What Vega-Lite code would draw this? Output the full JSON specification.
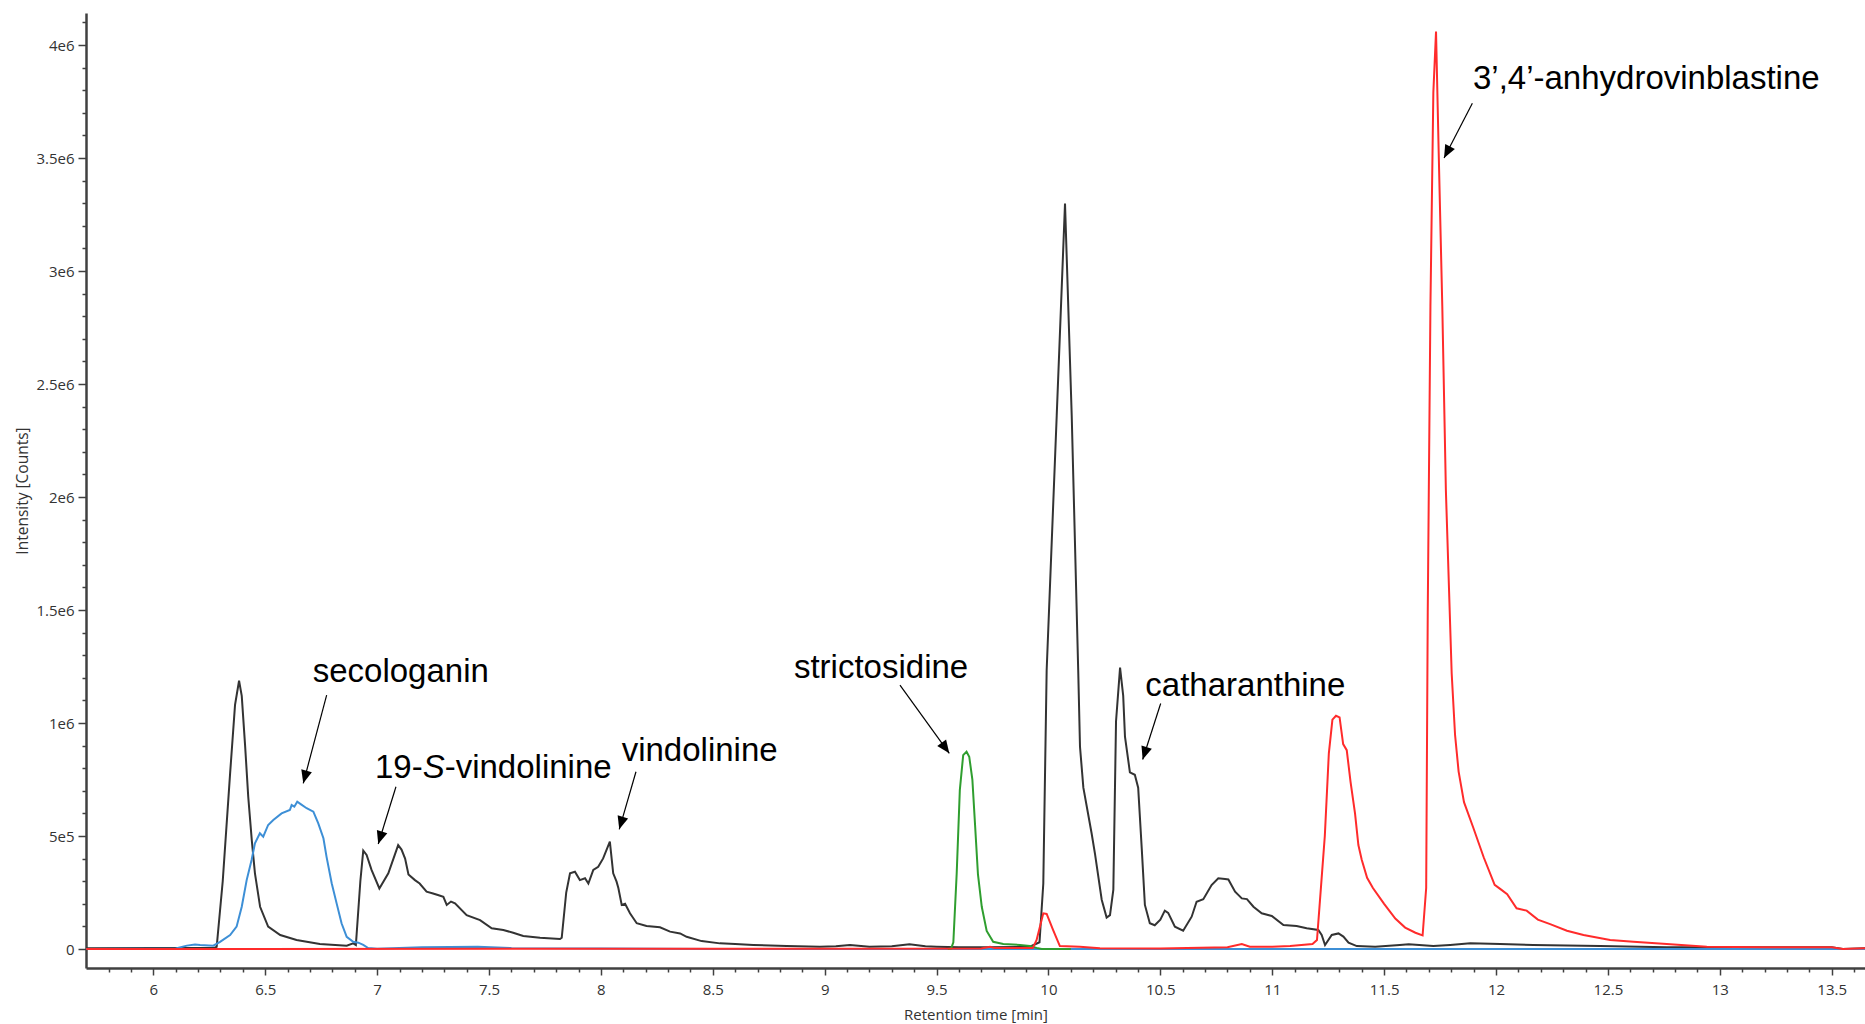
{
  "$schema": "https://vega.github.io/schema/vega-lite/v6.json",
  "width": 1779,
  "height": 955,
  "autosize": {"type": "none"},
  "padding": {"left": 86, "top": 13, "right": 0, "bottom": 56},
  "background": "white",
  "config": {"view": {"stroke": null}},
  "datasets": {
    "traces": [
      {"s":"sample","t":5.7,"i":3000},{"s":"sample","t":6.0,"i":4000},{"s":"sample","t":6.2,"i":4000},{"s":"sample","t":6.27,"i":4000},{"s":"sample","t":6.283,"i":10000},{"s":"sample","t":6.31,"i":300000},{"s":"sample","t":6.343,"i":777000},{"s":"sample","t":6.365,"i":1080000},{"s":"sample","t":6.383,"i":1187000},{"s":"sample","t":6.395,"i":1120000},{"s":"sample","t":6.41,"i":900000},{"s":"sample","t":6.424,"i":674000},{"s":"sample","t":6.44,"i":480000},{"s":"sample","t":6.454,"i":335000},{"s":"sample","t":6.477,"i":187000},{"s":"sample","t":6.513,"i":99000},{"s":"sample","t":6.567,"i":62000},{"s":"sample","t":6.64,"i":40000},{"s":"sample","t":6.744,"i":22000},{"s":"sample","t":6.864,"i":15000},{"s":"sample","t":6.893,"i":25000},{"s":"sample","t":6.905,"i":18000},{"s":"sample","t":6.925,"i":300000},{"s":"sample","t":6.938,"i":435000},{"s":"sample","t":6.953,"i":416000},{"s":"sample","t":6.975,"i":350000},{"s":"sample","t":7.01,"i":268000},{"s":"sample","t":7.05,"i":335000},{"s":"sample","t":7.08,"i":420000},{"s":"sample","t":7.094,"i":460000},{"s":"sample","t":7.109,"i":440000},{"s":"sample","t":7.125,"i":400000},{"s":"sample","t":7.14,"i":330000},{"s":"sample","t":7.169,"i":305000},{"s":"sample","t":7.19,"i":290000},{"s":"sample","t":7.221,"i":254000},{"s":"sample","t":7.25,"i":246000},{"s":"sample","t":7.275,"i":238000},{"s":"sample","t":7.296,"i":231000},{"s":"sample","t":7.311,"i":195000},{"s":"sample","t":7.33,"i":210000},{"s":"sample","t":7.348,"i":202000},{"s":"sample","t":7.4,"i":150000},{"s":"sample","t":7.46,"i":128000},{"s":"sample","t":7.512,"i":92000},{"s":"sample","t":7.564,"i":84000},{"s":"sample","t":7.608,"i":72000},{"s":"sample","t":7.653,"i":58000},{"s":"sample","t":7.728,"i":50000},{"s":"sample","t":7.817,"i":44000},{"s":"sample","t":7.825,"i":50000},{"s":"sample","t":7.845,"i":250000},{"s":"sample","t":7.862,"i":335000},{"s":"sample","t":7.884,"i":342000},{"s":"sample","t":7.906,"i":305000},{"s":"sample","t":7.929,"i":313000},{"s":"sample","t":7.944,"i":290000},{"s":"sample","t":7.966,"i":350000},{"s":"sample","t":7.988,"i":364000},{"s":"sample","t":8.01,"i":401000},{"s":"sample","t":8.04,"i":475000},{"s":"sample","t":8.055,"i":335000},{"s":"sample","t":8.07,"i":298000},{"s":"sample","t":8.078,"i":270000},{"s":"sample","t":8.093,"i":195000},{"s":"sample","t":8.108,"i":200000},{"s":"sample","t":8.13,"i":158000},{"s":"sample","t":8.16,"i":114000},{"s":"sample","t":8.204,"i":102000},{"s":"sample","t":8.264,"i":96000},{"s":"sample","t":8.309,"i":77000},{"s":"sample","t":8.354,"i":69000},{"s":"sample","t":8.383,"i":54000},{"s":"sample","t":8.45,"i":35000},{"s":"sample","t":8.532,"i":25000},{"s":"sample","t":8.6,"i":22000},{"s":"sample","t":8.681,"i":18000},{"s":"sample","t":8.83,"i":13000},{"s":"sample","t":8.979,"i":10000},{"s":"sample","t":9.05,"i":12000},{"s":"sample","t":9.113,"i":18000},{"s":"sample","t":9.2,"i":10000},{"s":"sample","t":9.3,"i":12000},{"s":"sample","t":9.379,"i":21000},{"s":"sample","t":9.45,"i":12000},{"s":"sample","t":9.5,"i":10000},{"s":"sample","t":9.6,"i":8000},{"s":"sample","t":9.724,"i":8000},{"s":"sample","t":9.917,"i":10000},{"s":"sample","t":9.96,"i":30000},{"s":"sample","t":9.977,"i":290000},{"s":"sample","t":9.992,"i":1234000},{"s":"sample","t":10.037,"i":2362000},{"s":"sample","t":10.074,"i":3299000},{"s":"sample","t":10.104,"i":2360000},{"s":"sample","t":10.133,"i":1234000},{"s":"sample","t":10.141,"i":895000},{"s":"sample","t":10.156,"i":714000},{"s":"sample","t":10.193,"i":511000},{"s":"sample","t":10.208,"i":421000},{"s":"sample","t":10.238,"i":218000},{"s":"sample","t":10.26,"i":139000},{"s":"sample","t":10.275,"i":150000},{"s":"sample","t":10.29,"i":263000},{"s":"sample","t":10.302,"i":1008000},{"s":"sample","t":10.32,"i":1245000},{"s":"sample","t":10.334,"i":1121000},{"s":"sample","t":10.342,"i":940000},{"s":"sample","t":10.364,"i":782000},{"s":"sample","t":10.386,"i":771000},{"s":"sample","t":10.401,"i":714000},{"s":"sample","t":10.417,"i":443000},{"s":"sample","t":10.431,"i":195000},{"s":"sample","t":10.453,"i":114000},{"s":"sample","t":10.475,"i":105000},{"s":"sample","t":10.5,"i":130000},{"s":"sample","t":10.52,"i":170000},{"s":"sample","t":10.535,"i":160000},{"s":"sample","t":10.565,"i":99000},{"s":"sample","t":10.602,"i":81000},{"s":"sample","t":10.64,"i":143000},{"s":"sample","t":10.662,"i":209000},{"s":"sample","t":10.692,"i":220000},{"s":"sample","t":10.729,"i":283000},{"s":"sample","t":10.759,"i":313000},{"s":"sample","t":10.789,"i":310000},{"s":"sample","t":10.804,"i":308000},{"s":"sample","t":10.834,"i":254000},{"s":"sample","t":10.864,"i":224000},{"s":"sample","t":10.887,"i":221000},{"s":"sample","t":10.916,"i":187000},{"s":"sample","t":10.953,"i":158000},{"s":"sample","t":10.998,"i":146000},{"s":"sample","t":11.05,"i":106000},{"s":"sample","t":11.109,"i":102000},{"s":"sample","t":11.154,"i":92000},{"s":"sample","t":11.206,"i":84000},{"s":"sample","t":11.221,"i":62000},{"s":"sample","t":11.236,"i":18000},{"s":"sample","t":11.266,"i":62000},{"s":"sample","t":11.296,"i":69000},{"s":"sample","t":11.318,"i":55000},{"s":"sample","t":11.341,"i":28000},{"s":"sample","t":11.378,"i":13000},{"s":"sample","t":11.46,"i":10000},{"s":"sample","t":11.57,"i":18000},{"s":"sample","t":11.61,"i":21000},{"s":"sample","t":11.72,"i":13000},{"s":"sample","t":11.795,"i":18000},{"s":"sample","t":11.885,"i":25000},{"s":"sample","t":12.019,"i":22000},{"s":"sample","t":12.167,"i":18000},{"s":"sample","t":12.465,"i":13000},{"s":"sample","t":12.763,"i":8000},{"s":"sample","t":13.06,"i":8000},{"s":"sample","t":13.5,"i":8000},{"s":"sample","t":13.55,"i":0},{"s":"sample","t":13.65,"i":3000},
      {"s":"secologanin","t":5.7,"i":0},{"s":"secologanin","t":6.1,"i":2000},{"s":"secologanin","t":6.15,"i":15000},{"s":"secologanin","t":6.186,"i":20000},{"s":"secologanin","t":6.209,"i":18000},{"s":"secologanin","t":6.268,"i":15000},{"s":"secologanin","t":6.298,"i":32000},{"s":"secologanin","t":6.343,"i":62000},{"s":"secologanin","t":6.372,"i":99000},{"s":"secologanin","t":6.395,"i":187000},{"s":"secologanin","t":6.417,"i":305000},{"s":"secologanin","t":6.439,"i":394000},{"s":"secologanin","t":6.454,"i":468000},{"s":"secologanin","t":6.476,"i":512000},{"s":"secologanin","t":6.491,"i":497000},{"s":"secologanin","t":6.513,"i":549000},{"s":"secologanin","t":6.536,"i":571000},{"s":"secologanin","t":6.573,"i":600000},{"s":"secologanin","t":6.61,"i":615000},{"s":"secologanin","t":6.618,"i":637000},{"s":"secologanin","t":6.63,"i":630000},{"s":"secologanin","t":6.643,"i":652000},{"s":"secologanin","t":6.66,"i":640000},{"s":"secologanin","t":6.685,"i":623000},{"s":"secologanin","t":6.715,"i":608000},{"s":"secologanin","t":6.737,"i":556000},{"s":"secologanin","t":6.76,"i":490000},{"s":"secologanin","t":6.774,"i":408000},{"s":"secologanin","t":6.797,"i":291000},{"s":"secologanin","t":6.819,"i":202000},{"s":"secologanin","t":6.841,"i":114000},{"s":"secologanin","t":6.864,"i":54000},{"s":"secologanin","t":6.893,"i":32000},{"s":"secologanin","t":6.916,"i":28000},{"s":"secologanin","t":6.938,"i":18000},{"s":"secologanin","t":6.96,"i":4000},{"s":"secologanin","t":7.0,"i":1000},{"s":"secologanin","t":7.2,"i":8000},{"s":"secologanin","t":7.45,"i":10000},{"s":"secologanin","t":7.6,"i":4000},{"s":"secologanin","t":8.0,"i":2000},{"s":"secologanin","t":8.5,"i":0},{"s":"secologanin","t":13.65,"i":0},
      {"s":"strictosidine","t":9.55,"i":0},{"s":"strictosidine","t":9.565,"i":2000},{"s":"strictosidine","t":9.575,"i":30000},{"s":"strictosidine","t":9.59,"i":335000},{"s":"strictosidine","t":9.604,"i":704000},{"s":"strictosidine","t":9.619,"i":858000},{"s":"strictosidine","t":9.634,"i":873000},{"s":"strictosidine","t":9.646,"i":851000},{"s":"strictosidine","t":9.66,"i":750000},{"s":"strictosidine","t":9.672,"i":550000},{"s":"strictosidine","t":9.685,"i":330000},{"s":"strictosidine","t":9.702,"i":187000},{"s":"strictosidine","t":9.724,"i":80000},{"s":"strictosidine","t":9.753,"i":32000},{"s":"strictosidine","t":9.798,"i":22000},{"s":"strictosidine","t":9.873,"i":18000},{"s":"strictosidine","t":9.917,"i":13000},{"s":"strictosidine","t":9.947,"i":5000},{"s":"strictosidine","t":9.97,"i":0},{"s":"strictosidine","t":10.1,"i":0},
      {"s":"anhydrovinblastine","t":5.7,"i":0},{"s":"anhydrovinblastine","t":9.7,"i":2000},{"s":"anhydrovinblastine","t":9.739,"i":10000},{"s":"anhydrovinblastine","t":9.76,"i":4000},{"s":"anhydrovinblastine","t":9.93,"i":4000},{"s":"anhydrovinblastine","t":9.947,"i":40000},{"s":"anhydrovinblastine","t":9.977,"i":158000},{"s":"anhydrovinblastine","t":9.992,"i":155000},{"s":"anhydrovinblastine","t":10.021,"i":84000},{"s":"anhydrovinblastine","t":10.051,"i":13000},{"s":"anhydrovinblastine","t":10.14,"i":10000},{"s":"anhydrovinblastine","t":10.23,"i":3000},{"s":"anhydrovinblastine","t":10.5,"i":2000},{"s":"anhydrovinblastine","t":10.8,"i":8000},{"s":"anhydrovinblastine","t":10.864,"i":22000},{"s":"anhydrovinblastine","t":10.9,"i":10000},{"s":"anhydrovinblastine","t":11.0,"i":10000},{"s":"anhydrovinblastine","t":11.08,"i":13000},{"s":"anhydrovinblastine","t":11.18,"i":22000},{"s":"anhydrovinblastine","t":11.2,"i":40000},{"s":"anhydrovinblastine","t":11.218,"i":276000},{"s":"anhydrovinblastine","t":11.235,"i":500000},{"s":"anhydrovinblastine","t":11.253,"i":866000},{"s":"anhydrovinblastine","t":11.269,"i":1015000},{"s":"anhydrovinblastine","t":11.285,"i":1032000},{"s":"anhydrovinblastine","t":11.301,"i":1025000},{"s":"anhydrovinblastine","t":11.317,"i":907000},{"s":"anhydrovinblastine","t":11.333,"i":880000},{"s":"anhydrovinblastine","t":11.35,"i":740000},{"s":"anhydrovinblastine","t":11.37,"i":600000},{"s":"anhydrovinblastine","t":11.385,"i":460000},{"s":"anhydrovinblastine","t":11.4,"i":395000},{"s":"anhydrovinblastine","t":11.424,"i":315000},{"s":"anhydrovinblastine","t":11.45,"i":270000},{"s":"anhydrovinblastine","t":11.5,"i":200000},{"s":"anhydrovinblastine","t":11.55,"i":135000},{"s":"anhydrovinblastine","t":11.594,"i":95000},{"s":"anhydrovinblastine","t":11.64,"i":72000},{"s":"anhydrovinblastine","t":11.672,"i":60000},{"s":"anhydrovinblastine","t":11.688,"i":270000},{"s":"anhydrovinblastine","t":11.695,"i":1490000},{"s":"anhydrovinblastine","t":11.707,"i":2844000},{"s":"anhydrovinblastine","t":11.72,"i":3790000},{"s":"anhydrovinblastine","t":11.732,"i":4060000},{"s":"anhydrovinblastine","t":11.744,"i":3522000},{"s":"anhydrovinblastine","t":11.76,"i":2844000},{"s":"anhydrovinblastine","t":11.776,"i":2031000},{"s":"anhydrovinblastine","t":11.802,"i":1219000},{"s":"anhydrovinblastine","t":11.817,"i":948000},{"s":"anhydrovinblastine","t":11.833,"i":785000},{"s":"anhydrovinblastine","t":11.857,"i":650000},{"s":"anhydrovinblastine","t":11.897,"i":541000},{"s":"anhydrovinblastine","t":11.945,"i":406000},{"s":"anhydrovinblastine","t":11.994,"i":284000},{"s":"anhydrovinblastine","t":12.02,"i":265000},{"s":"anhydrovinblastine","t":12.05,"i":243000},{"s":"anhydrovinblastine","t":12.092,"i":180000},{"s":"anhydrovinblastine","t":12.137,"i":170000},{"s":"anhydrovinblastine","t":12.187,"i":130000},{"s":"anhydrovinblastine","t":12.242,"i":110000},{"s":"anhydrovinblastine","t":12.317,"i":81000},{"s":"anhydrovinblastine","t":12.391,"i":62000},{"s":"anhydrovinblastine","t":12.51,"i":40000},{"s":"anhydrovinblastine","t":12.614,"i":32000},{"s":"anhydrovinblastine","t":12.763,"i":22000},{"s":"anhydrovinblastine","t":12.942,"i":10000},{"s":"anhydrovinblastine","t":13.2,"i":8000},{"s":"anhydrovinblastine","t":13.5,"i":8000},{"s":"anhydrovinblastine","t":13.55,"i":0},{"s":"anhydrovinblastine","t":13.65,"i":3000}
    ],
    "labels": [
      {"label":"secologanin","t":6.712,"i":1181000},
      {"label":"19-","t":6.9903,"i":755000},
      {"label":"-vindolinine","t":7.3018,"i":755000},
      {"label":"vindolinine","t":8.0928,"i":830000},
      {"label":"strictosidine","t":8.8627,"i":1200000},
      {"label":"catharanthine","t":10.433,"i":1119000},
      {"label":"3’,4’-anhydrovinblastine","t":11.897,"i":3805000}
    ],
    "arrows": [
      {"name":"secologanin","t":6.7744,"i":1123900,"t2":6.6699,"i2":733200},
      {"name":"vindolinine19S","t":7.0841,"i":718100,"t2":7.005,"i2":464600},
      {"name":"vindolinine","t":8.1567,"i":784500,"t2":8.082,"i2":529600},
      {"name":"strictosidine","t":9.3365,"i":1168100,"t2":9.5568,"i2":865900},
      {"name":"catharanthine","t":10.5015,"i":1086700,"t2":10.4211,"i2":838500},
      {"name":"anhydrovinblastine","t":11.8944,"i":3742500,"t2":11.768,"i2":3500000}
    ]
  },
  "encoding": {
    "x": {
      "field": "t", "type": "quantitative",
      "scale": {"domain": [5.699, 13.649], "nice": false, "zero": false},
      "axis": {
        "title": "Retention time [min]",
        "values": [5.8,5.9,6,6.1,6.2,6.3,6.4,6.5,6.6,6.7,6.8,6.9,7,7.1,7.2,7.3,7.4,7.5,7.6,7.7,7.8,7.9,8,8.1,8.2,8.3,8.4,8.5,8.6,8.7,8.8,8.9,9,9.1,9.2,9.3,9.4,9.5,9.6,9.7,9.8,9.9,10,10.1,10.2,10.3,10.4,10.5,10.6,10.7,10.8,10.9,11,11.1,11.2,11.3,11.4,11.5,11.6,11.7,11.8,11.9,12,12.1,12.2,12.3,12.4,12.5,12.6,12.7,12.8,12.9,13,13.1,13.2,13.3,13.4,13.5,13.6],
        "labelExpr": "abs(datum.value*2 - round(datum.value*2)) < 0.01 ? '' + datum.value : ''",
        "tickSize": {"condition": {"test": "abs(datum.value*2 - round(datum.value*2)) < 0.01", "value": 7}, "value": 4},
        "labelOverlap": false, "labelBound": false, "labelFlush": false,
        "grid": false,
        "domainColor": "#404040", "domainWidth": 2.5,
        "tickColor": "#404040", "tickWidth": 1.5,
        "labelFont": "Open Sans", "labelFontSize": 15, "labelColor": "#333333", "labelPadding": 7,
        "titleFont": "Open Sans", "titleFontSize": 15, "titleFontWeight": "normal", "titleColor": "#333333", "titlePadding": 10
      }
    },
    "y": {
      "field": "i", "type": "quantitative",
      "scale": {"domain": [-84000, 4142000], "nice": false, "zero": false},
      "axis": {
        "title": "Intensity [Counts]",
        "values": [0,100000,200000,300000,400000,500000,600000,700000,800000,900000,1000000,1100000,1200000,1300000,1400000,1500000,1600000,1700000,1800000,1900000,2000000,2100000,2200000,2300000,2400000,2500000,2600000,2700000,2800000,2900000,3000000,3100000,3200000,3300000,3400000,3500000,3600000,3700000,3800000,3900000,4000000,4100000],
        "labelExpr": "abs(datum.value/500000 - round(datum.value/500000)) < 0.001 ? (datum.value == 0 ? '0' : (datum.value < 1000000 ? (datum.value/100000) + 'e5' : (datum.value/1000000) + 'e6')) : ''",
        "tickSize": {"condition": {"test": "abs(datum.value/500000 - round(datum.value/500000)) < 0.001", "value": 8}, "value": 4},
        "labelOverlap": false, "labelBound": false, "labelFlush": false,
        "grid": false,
        "domainColor": "#404040", "domainWidth": 2.5,
        "tickColor": "#404040", "tickWidth": 1.5,
        "labelFont": "Open Sans", "labelFontSize": 15, "labelColor": "#333333", "labelPadding": 4,
        "titleFont": "Open Sans", "titleFontSize": 15.5, "titleFontWeight": "normal", "titleColor": "#333333", "titlePadding": 5
      }
    }
  },
  "layer": [
    {
      "data": {"name": "traces"},
      "transform": [{"filter": "datum.s == 'sample'"}],
      "mark": {"type": "line", "strokeWidth": 2, "clip": true},
      "encoding": {"color": {"field": "s", "type": "nominal", "scale": {"domain": ["sample","secologanin","strictosidine","anhydrovinblastine"], "range": ["#333333","#3d8fd6","#2f9e2f","#ff2b2b"]}, "legend": null}}
    },
    {
      "data": {"name": "traces"},
      "transform": [{"filter": "datum.s == 'secologanin'"}],
      "mark": {"type": "line", "strokeWidth": 2, "clip": true},
      "encoding": {"color": {"field": "s", "type": "nominal", "legend": null}}
    },
    {
      "data": {"name": "traces"},
      "transform": [{"filter": "datum.s == 'strictosidine'"}],
      "mark": {"type": "line", "strokeWidth": 2, "clip": true},
      "encoding": {"color": {"field": "s", "type": "nominal", "legend": null}}
    },
    {
      "data": {"name": "traces"},
      "transform": [{"filter": "datum.s == 'anhydrovinblastine'"}],
      "mark": {"type": "line", "strokeWidth": 2, "clip": true},
      "encoding": {"color": {"field": "s", "type": "nominal", "legend": null}}
    },
    {
      "data": {"name": "arrows"},
      "mark": {"type": "rule", "color": "#000000", "strokeWidth": 1.2},
      "encoding": {"x2": {"field": "t2"}, "y2": {"field": "i2"}}
    },
    {
      "data": {"name": "arrows"},
      "transform": [{"filter": "datum.name == 'secologanin'"}],
      "mark": {"type": "point", "shape": "M0,0L0.42,1L-0.42,1Z", "filled": true, "color": "#000000", "size": 676, "angle": 194.8, "opacity": 1},
      "encoding": {"x": {"field": "t2", "type": "quantitative"}, "y": {"field": "i2", "type": "quantitative"}}
    },
    {
      "data": {"name": "arrows"},
      "transform": [{"filter": "datum.name == 'vindolinine19S'"}],
      "mark": {"type": "point", "shape": "M0,0L0.42,1L-0.42,1Z", "filled": true, "color": "#000000", "size": 676, "angle": 197.2, "opacity": 1},
      "encoding": {"x": {"field": "t2", "type": "quantitative"}, "y": {"field": "i2", "type": "quantitative"}}
    },
    {
      "data": {"name": "arrows"},
      "transform": [{"filter": "datum.name == 'vindolinine'"}],
      "mark": {"type": "point", "shape": "M0,0L0.42,1L-0.42,1Z", "filled": true, "color": "#000000", "size": 676, "angle": 196.2, "opacity": 1},
      "encoding": {"x": {"field": "t2", "type": "quantitative"}, "y": {"field": "i2", "type": "quantitative"}}
    },
    {
      "data": {"name": "arrows"},
      "transform": [{"filter": "datum.name == 'strictosidine'"}],
      "mark": {"type": "point", "shape": "M0,0L0.42,1L-0.42,1Z", "filled": true, "color": "#000000", "size": 676, "angle": 144.2, "opacity": 1},
      "encoding": {"x": {"field": "t2", "type": "quantitative"}, "y": {"field": "i2", "type": "quantitative"}}
    },
    {
      "data": {"name": "arrows"},
      "transform": [{"filter": "datum.name == 'catharanthine'"}],
      "mark": {"type": "point", "shape": "M0,0L0.42,1L-0.42,1Z", "filled": true, "color": "#000000", "size": 676, "angle": 197.8, "opacity": 1},
      "encoding": {"x": {"field": "t2", "type": "quantitative"}, "y": {"field": "i2", "type": "quantitative"}}
    },
    {
      "data": {"name": "arrows"},
      "transform": [{"filter": "datum.name == 'anhydrovinblastine'"}],
      "mark": {"type": "point", "shape": "M0,0L0.42,1L-0.42,1Z", "filled": true, "color": "#000000", "size": 676, "angle": 207.3, "opacity": 1},
      "encoding": {"x": {"field": "t2", "type": "quantitative"}, "y": {"field": "i2", "type": "quantitative"}}
    },
    {
      "data": {"name": "labels"},
      "mark": {"type": "text", "align": "left", "baseline": "alphabetic", "font": "Liberation Sans", "fontSize": 33, "color": "#000000"},
      "encoding": {"text": {"field": "label"}}
    },
    {
      "data": {"values": [{"label": "S", "t": 7.2035, "i": 755000}]},
      "mark": {"type": "text", "align": "left", "baseline": "alphabetic", "font": "Liberation Sans", "fontSize": 33, "fontStyle": "italic", "color": "#000000"},
      "encoding": {"text": {"field": "label"}}
    }
  ]
}
